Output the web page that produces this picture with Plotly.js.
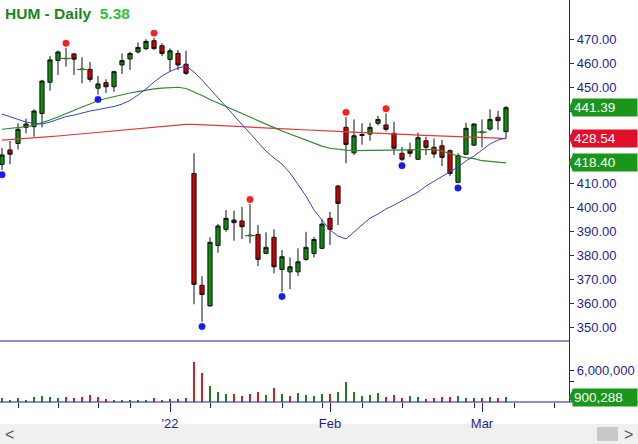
<!DOCTYPE html>
<html><head><meta charset="utf-8">
<script src="https://cdn.plot.ly/plotly-3.0.1.min.js"></script>
<style>html,body{margin:0;padding:0;background:#fff;}#chart{width:638px;height:444px;}</style>
</head><body><div id="chart"></div>
<script>
// ---------- data ----------
const dates = [
 '2021-12-02','2021-12-03','2021-12-06','2021-12-07','2021-12-08','2021-12-09','2021-12-10',
 '2021-12-13','2021-12-14','2021-12-15','2021-12-16','2021-12-17','2021-12-20','2021-12-21',
 '2021-12-22','2021-12-23','2021-12-27','2021-12-28','2021-12-29','2021-12-30','2021-12-31',
 '2022-01-03','2022-01-04','2022-01-05','2022-01-06','2022-01-07','2022-01-10','2022-01-11',
 '2022-01-12','2022-01-13','2022-01-14','2022-01-18','2022-01-19','2022-01-20','2022-01-21',
 '2022-01-24','2022-01-25','2022-01-26','2022-01-27','2022-01-28','2022-01-31','2022-02-01',
 '2022-02-02','2022-02-03','2022-02-04','2022-02-07','2022-02-08','2022-02-09','2022-02-10',
 '2022-02-11','2022-02-14','2022-02-15','2022-02-16','2022-02-17','2022-02-18','2022-02-22',
 '2022-02-23','2022-02-24','2022-02-25','2022-02-28','2022-03-01','2022-03-02','2022-03-03',
 '2022-03-04'];
const openP = [417.8,423.8,426.5,434.6,433.5,439.0,452.0,461.1,461.8,463.8,
 457.5,457.4,449.5,451.8,450.1,459.2,461.7,464.6,466.0,469.3,
 467.2,461.5,464.0,459.5,414.0,367.4,358.8,384.0,390.7,394.6,
 394.2,388.3,388.6,380.7,387.4,374.0,373.0,373.0,378.2,380.7,
 382.8,395.3,408.75,433.2,422.6,429.8,430.4,434.9,434.2,430.7,
 422.4,423.8,419.9,427.6,424.9,425.5,423.5,410.3,422.0,425.8,
 431.0,432.5,437.4,431.4];
const highP = [424.6,427.5,434.9,436.8,440.7,453.0,462.9,465.2,466.3,464.0,
 462.4,460.5,454.6,453.2,456.8,464.0,464.7,468.5,469.9,470.5,
 468.2,466.1,465.4,465.1,422.4,371.2,387.4,392.9,398.75,398.5,
 400.1,401.2,392.5,389.5,390.7,382.1,379.0,382.8,389.7,387.6,
 394.9,398.0,409.2,437.5,436.5,434.9,435.1,438.0,439.0,435.5,
 425.1,426.8,431.0,429.3,428.6,427.9,424.0,422.4,435.1,434.9,
 436.5,440.7,440.1,442.1];
const lowP = [415.4,417.8,424.0,430.7,429.3,433.2,448.5,455.0,458.5,455.0,
 451.5,452.1,446.8,447.5,448.0,455.4,457.1,464.0,465.4,465.5,
 462.9,456.4,457.1,455.0,359.5,352.2,358.6,381.0,389.7,386.0,
 386.7,384.9,375.4,380.5,372.4,364.7,365.8,371.3,377.6,379.0,
 382.6,384.2,392.5,418.2,421.7,426.0,427.6,434.0,431.5,421.7,
 419.2,421.0,419.6,421.7,420.5,417.1,412.9,409.9,421.8,425.4,
 424.9,431.8,432.1,428.6];
const closeP = [421.7,422.0,432.4,433.2,440.0,452.5,461.3,464.6,461.9,461.6,
 457.3,453.2,451.3,450.1,456.4,461.0,464.0,466.5,469.0,466.0,
 464.0,465.1,459.2,455.7,367.8,363.6,385.3,392.1,395.3,393.5,
 391.8,388.1,378.2,383.2,375.1,379.3,375.1,377.2,383.2,386.5,
 392.9,390.7,401.5,426.1,429.7,430.2,433.2,436.5,432.4,424.5,
 419.9,422.4,428.9,424.9,422.1,420.7,414.0,421.5,432.8,434.6,
 431.2,436.5,436.0,441.39];
const volume = [700000,450000,700000,320000,900000,1090000,900000,700000,900000,700000,
 900000,1270000,900000,500000,320000,320000,320000,320000,320000,700000,
 320000,500000,500000,700000,7600000,5500000,3000000,1850000,1470000,1470000,
 1090000,1470000,1850000,1270000,2600000,1470000,1090000,1660000,1270000,1090000,
 1470000,1470000,1850000,3760000,1850000,1090000,1270000,1660000,900000,1270000,
 700000,1090000,900000,500000,700000,900000,900000,1090000,700000,700000,
 700000,900000,700000,900288];
const maBlue = [438.75,437.7,436.5,435.4,434.8,434.6,435.4,436.7,437.7,438.3,
 439.2,440.0,440.6,441.25,441.9,442.9,444.4,446.7,449.2,452.1,
 454.6,456.5,457.9,458.75,456.25,452.9,449.2,445.4,441.7,437.9,
 434.2,430.4,426.7,423.3,420.4,417.9,414.2,409.6,404.6,398.75,
 394.6,390.4,387.9,386.7,389.6,392.5,395.4,397.1,399.2,400.8,
 402.5,404.2,406.25,408.75,410.8,412.9,414.6,416.7,419.2,421.25,
 423.75,426.25,427.9,428.75];
const maGreen = [432.4,432.7,433.1,433.5,434.0,435.0,436.25,437.5,439.0,440.4,
 441.7,442.9,444.4,445.2,446.0,446.9,447.5,448.1,448.75,449.2,
 449.5,449.8,449.9,449.4,448.1,446.5,444.8,443.3,441.9,440.4,
 439.0,437.5,436.0,434.6,433.1,431.7,430.4,429.0,427.7,426.7,
 425.4,424.5,424.0,423.75,423.5,423.5,423.5,423.6,423.7,423.75,
 423.75,423.8,423.9,424.0,424.0,423.3,422.3,421.25,420.6,420.2,
 419.3,419.0,418.7,418.40];
const maRed = [427.9,428.1,428.25,428.5,428.8,429.0,429.3,429.6,429.9,430.2,
 430.5,430.8,431.2,431.5,431.9,432.2,432.6,432.8,433.1,433.5,
 433.8,434.1,434.25,434.4,434.4,434.3,434.2,434.0,433.8,433.7,
 433.5,433.3,433.2,433.0,432.8,432.7,432.5,432.3,432.2,432.0,
 431.8,431.7,431.5,431.3,431.2,431.0,430.8,430.7,430.6,430.4,
 430.3,430.2,430.0,429.9,429.8,429.7,429.5,429.3,429.2,429.1,
 429.0,428.8,428.7,428.54];
const swingHighIdx = [8,19,31,43,48];
const swingLowIdx = [0,12,25,35,50,57];
const priceTicks = [350,360,370,380,390,400,410,420,430,440,450,460,470];
const hiddenPriceTicks = [420,430,440]; // covered by the value tags in the reference
const volTicks = [4000000,6000000];
const volTickText = ['','6,000,000'];
const futureMondays = [64,69];
const titleName = 'HUM - Daily';
const titleChange = '5.38';

// ---------- derived ----------
const idx = dates.map((d,i)=>i);
const mondayIdx = [];
const monthIdx = [], monthTxt = [];
const mNames = ['Jan','Feb','Mar','Apr','May','Jun','Jul','Aug','Sep','Oct','Nov','Dec'];
dates.forEach((d,i)=>{
  const dt = new Date(d+'T00:00:00Z');
  if (dt.getUTCDay()===1) mondayIdx.push(i);
  if (i>0) {
    const p = new Date(dates[i-1]+'T00:00:00Z');
    if (p.getUTCMonth()!==dt.getUTCMonth()) {
      monthIdx.push(i);
      monthTxt.push(p.getUTCFullYear()!==dt.getUTCFullYear() ? "'"+String(dt.getUTCFullYear()).slice(2) : mNames[dt.getUTCMonth()]);
    }
  }
});
const weekTicks = mondayIdx.concat(futureMondays);
const NAVY='#1f1f8f';
const volColors = closeP.map((c,i)=> (i===0 || c>=closeP[i-1]) ? '#1f7f1f' : '#cc2222');
// doji candles (open ~ close) drawn as small green crosses
const dojiIdx = idx.filter(i=>Math.abs(closeP[i]-openP[i])<0.3);

const plotH = 402, sepPx = 341;
const volDomTop = (plotH-sepPx)/plotH;
const xDomR = 569/638;
const xRange = [-0.25, 70.875];

const traces = [
 {type:'scatter', mode:'lines', x:idx, y:maRed, xaxis:'x', yaxis:'y', line:{color:'#e03a3a', width:1.2}, hoverinfo:'skip'},
 {type:'scatter', mode:'lines', x:idx, y:maGreen, xaxis:'x', yaxis:'y', line:{color:'#2c8c2c', width:1.2}, hoverinfo:'skip'},
 {type:'scatter', mode:'lines', x:idx, y:maBlue, xaxis:'x', yaxis:'y', line:{color:'#4040d8', width:1}, hoverinfo:'skip'},
 {type:'candlestick', x:idx, open:openP, high:highP, low:lowP, close:closeP, xaxis:'x', yaxis:'y',
  increasing:{line:{color:'#111', width:1}, fillcolor:'#0e8a0e'},
  decreasing:{line:{color:'#111', width:1}, fillcolor:'#cc0000'}, whiskerwidth:0, hoverinfo:'skip'},
 {type:'scatter', mode:'markers', x:dojiIdx, y:dojiIdx.map(i=>closeP[i]), xaxis:'x', yaxis:'y',
  marker:{symbol:'line-ew', size:7, line:{color:'#2a8a2a', width:1.3}}, hoverinfo:'skip'},
 {type:'bar', x:idx, y:volume, xaxis:'x', yaxis:'y2', width:0.28, marker:{color:volColors, line:{width:0}}, hoverinfo:'skip'},
 {type:'scatter', mode:'markers', x:[], y:[], xaxis:'x2', yaxis:'y2', hoverinfo:'skip'}
];

const shapes = [];
shapes.push({type:'line', xref:'paper', yref:'paper', x0:0, x1:xDomR, y0:volDomTop, y1:volDomTop, line:{color:NAVY, width:1.2}});
shapes.push({type:'line', xref:'paper', yref:'paper', x0:0, x1:1, y0:0, y1:0, line:{color:NAVY, width:1.2}});
swingHighIdx.forEach(i=>shapes.push({type:'circle', xref:'x', yref:'y', xsizemode:'pixel', ysizemode:'pixel',
  xanchor:i, yanchor:highP[i], x0:-3.2, x1:3.2, y0:1.5, y1:7.9, fillcolor:'#ff2020', line:{color:'#e81010', width:0.5}}));
swingLowIdx.forEach(i=>shapes.push({type:'circle', xref:'x', yref:'y', xsizemode:'pixel', ysizemode:'pixel',
  xanchor:i, yanchor:lowP[i], x0:-3.2, x1:3.2, y0:-1.5, y1:-7.9, fillcolor:'#1a1aff', line:{color:'#1010d0', width:0.5}}));
const py = v => (plotH - v)/plotH;
shapes.push({type:'rect', xref:'paper', yref:'paper', x0:0, x1:1, y0:py(424), y1:py(444), fillcolor:'#f0f0f0', line:{width:0}, layer:'below'});
shapes.push({type:'rect', xref:'paper', yref:'paper', x0:597/638, x1:618/638, y0:py(427), y1:py(441), fillcolor:'#c8c8c8', line:{width:0}});

const annotations = [];
annotations.push({xref:'paper', yref:'paper', x:3/638, y:py(13), xanchor:'left', yanchor:'middle', showarrow:false,
  text:'<b><span style="color:#17871a">'+titleName+'</span>&nbsp;&nbsp;<span style="color:#2fc42f">'+titleChange+'</span></b>',
  font:{size:15.5, family:'Liberation Sans, Arial, sans-serif'}});
function tag(val, yref, txt, color){
  annotations.push({xref:'paper', yref:yref, x:572/638, y:val, xanchor:'left', yanchor:'middle', showarrow:false,
    text:txt, align:'left', width:62, height:15, bgcolor:color, borderpad:1, font:{color:'#fff', size:13.5, family:'Liberation Sans, Arial, sans-serif'}});
  shapes.push({type:'path', xref:'paper', yref:yref, xsizemode:'pixel', ysizemode:'pixel', xanchor:572/638, yanchor:val,
    path:'M1,-8.5 L-3,0 L1,8.5 Z', fillcolor:color, line:{width:0}});
}
tag(closeP[closeP.length-1], 'y', closeP[closeP.length-1].toFixed(2), '#1a961a');
tag(maRed[maRed.length-1], 'y', maRed[maRed.length-1].toFixed(2), '#e0102a');
tag(maGreen[maGreen.length-1], 'y', maGreen[maGreen.length-1].toFixed(2), '#1a961a');
tag(volume[volume.length-1], 'y2', volume[volume.length-1].toLocaleString('en-US'), '#1a961a');
annotations.push({xref:'paper', yref:'paper', x:10/638, y:py(434), xanchor:'center', yanchor:'middle', showarrow:false, text:'&lt;', font:{size:16, color:'#555'}});
annotations.push({xref:'paper', yref:'paper', x:628/638, y:py(434), xanchor:'center', yanchor:'middle', showarrow:false, text:'&gt;', font:{size:16, color:'#555'}});

const layout = {
  width:638, height:444, margin:{l:0, r:0, t:0, b:42}, paper_bgcolor:'#fff', plot_bgcolor:'#fff',
  showlegend:false, boxgap:0.25, bargap:0,
  font:{family:'Liberation Sans, Arial, sans-serif', color:NAVY},
  xaxis:{domain:[0,xDomR], range:xRange, anchor:'y2', tickvals:weekTicks, ticktext:weekTicks.map(()=>''), ticks:'outside', ticklen:5,
    tickcolor:NAVY, showline:false, showgrid:false, zeroline:false, rangeslider:{visible:false}, fixedrange:true},
  xaxis2:{overlaying:'x', anchor:'y2', range:xRange, tickvals:monthIdx, ticktext:monthTxt, ticks:'outside', ticklen:9, tickcolor:NAVY,
    tickfont:{size:13, color:NAVY}, showline:false, showgrid:false, zeroline:false, fixedrange:true},
  yaxis:{domain:[volDomTop,1], anchor:'x', side:'right', range:[344.2,486.25], tickvals:priceTicks,
    ticktext:priceTicks.map(v=>hiddenPriceTicks.includes(v)?'':v.toFixed(2)),
    ticks:'outside', ticklen:4, tickcolor:NAVY, showline:true, linecolor:NAVY, linewidth:1.2, showgrid:false, zeroline:false,
    tickfont:{size:13, color:NAVY}, fixedrange:true},
  yaxis2:{domain:[0,volDomTop], anchor:'x', side:'right', range:[0,11.73e6], tickvals:volTicks, ticktext:volTickText,
    ticks:'outside', ticklen:4, tickcolor:NAVY, showline:true, linecolor:NAVY, linewidth:1.2, showgrid:false, zeroline:false,
    tickfont:{size:13, color:NAVY}, fixedrange:true},
  shapes:shapes, annotations:annotations
};
Plotly.newPlot('chart', traces, layout, {staticPlot:true, displayModeBar:false});
</script></body></html>
